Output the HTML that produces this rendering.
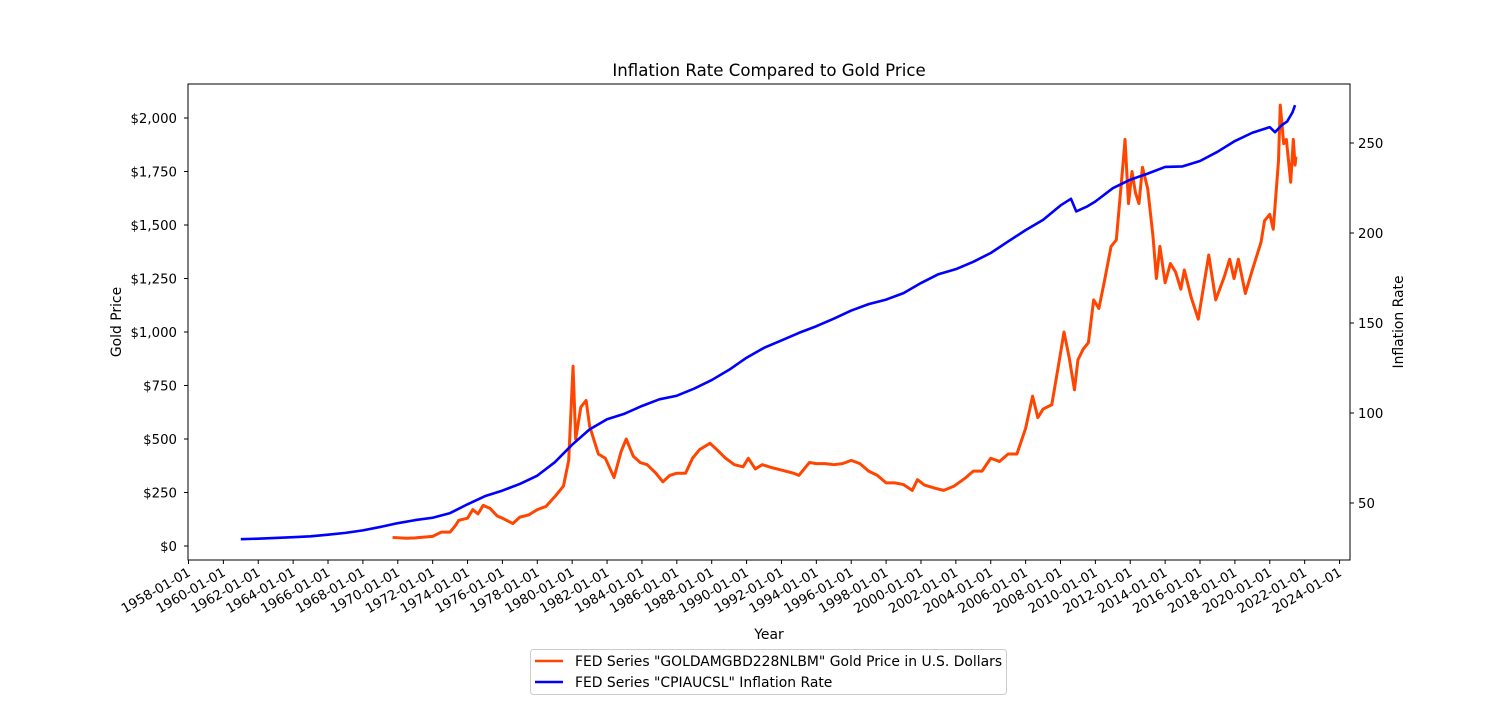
<!DOCTYPE html>
<html><head><meta charset="utf-8"><style>body{margin:0;background:#fff}svg{font-family:"DejaVu Sans","Liberation Sans",sans-serif}</style></head>
<body>
<svg id="c" width="1500" height="700"></svg>
<script>
const goldDates=[1969.7,1970.5,1971,1972,1972.5,1973,1973.3,1973.5,1974,1974.3,1974.6,1974.9,1975.3,1975.7,1976,1976.6,1977,1977.5,1978,1978.5,1979,1979.5,1979.8,1980.05,1980.2,1980.5,1980.8,1981,1981.5,1981.9,1982.4,1982.8,1983.1,1983.5,1983.9,1984.3,1984.8,1985.2,1985.6,1986,1986.5,1986.9,1987.3,1987.9,1988.3,1988.8,1989.3,1989.8,1990.1,1990.5,1990.9,1991.5,1992,1992.7,1993,1993.6,1994,1994.5,1995,1995.5,1996,1996.5,1997,1997.5,1998,1998.5,1999,1999.5,1999.8,2000.2,2000.8,2001.3,2001.9,2002.5,2003,2003.5,2004,2004.5,2005,2005.5,2006,2006.4,2006.7,2007,2007.5,2008,2008.2,2008.5,2008.8,2009,2009.3,2009.6,2009.9,2010.2,2010.5,2010.9,2011.2,2011.6,2011.7,2011.9,2012.1,2012.3,2012.5,2012.7,2013,2013.3,2013.5,2013.7,2014,2014.3,2014.6,2014.9,2015.1,2015.5,2015.9,2016.5,2016.9,2017.4,2017.7,2017.95,2018.2,2018.6,2019,2019.5,2019.7,2020,2020.2,2020.5,2020.6,2020.8,2020.95,2021.2,2021.35,2021.45,2021.5];
const goldValues=[40,36,38,45,65,65,95,120,130,170,150,190,175,140,130,105,135,145,170,185,230,280,400,840,500,650,680,560,430,410,320,440,500,420,390,380,340,300,330,340,340,410,450,480,450,410,380,370,410,360,380,365,355,340,330,390,385,385,380,385,400,385,350,330,295,295,287,260,310,285,270,260,280,315,350,350,410,395,430,430,550,700,600,640,660,900,1000,880,730,870,920,950,1150,1110,1230,1400,1430,1800,1900,1600,1750,1650,1600,1770,1670,1450,1250,1400,1230,1320,1280,1200,1290,1160,1060,1360,1150,1260,1340,1250,1340,1180,1290,1420,1520,1550,1480,1800,2060,1880,1900,1700,1900,1780,1820];
const cpiDates=[1961,1962,1963,1964,1965,1966,1967,1968,1969,1970,1971,1972,1973,1974,1975,1976,1977,1978,1979,1980,1981,1982,1983,1984,1985,1986,1987,1988,1989,1990,1991,1992,1993,1994,1995,1996,1997,1998,1999,2000,2001,2002,2003,2004,2005,2006,2007,2008,2008.6,2008.9,2009.5,2010,2011,2012,2013,2014,2015,2016,2017,2018,2019,2020,2020.3,2020.7,2021,2021.3,2021.45];
const cpiValues=[29.9,30.2,30.6,31.0,31.5,32.4,33.4,34.8,36.7,38.8,40.5,41.8,44.4,49.3,53.8,56.9,60.6,65.2,72.6,82.4,90.9,96.5,99.6,103.9,107.6,109.6,113.6,118.3,124.0,130.7,136.2,140.3,144.5,148.2,152.4,156.9,160.5,163.0,166.6,172.2,177.1,179.9,184.0,188.9,195.3,201.6,207.3,215.3,219,212,214.6,217.5,224.9,229.6,233.0,236.7,237.0,240.0,245.1,251.1,255.7,258.8,256,260,262,267,271];
const goldTicks=[0,250,500,750,1000,1250,1500,1750,2000];
const goldTickLabels=["$0","$250","$500","$750","$1,000","$1,250","$1,500","$1,750","$2,000"];
const cpiTicks=[50,100,150,200,250];
const yearTicks=[1958,1960,1962,1964,1966,1968,1970,1972,1974,1976,1978,1980,1982,1984,1986,1988,1990,1992,1994,1996,1998,2000,2002,2004,2006,2008,2010,2012,2014,2016,2018,2020,2022,2024];

const svg=document.getElementById('c');const NS='http://www.w3.org/2000/svg';
const L=188,R=1350,T=84,B=560;
const x=d=>188.5+(d-1958)*17.44;
const yG=v=>546-v*0.214;
const yC=v=>143+(250-v)*1.8;
function mk(tag,attrs,parent){const e=document.createElementNS(NS,tag);for(const k in attrs)e.setAttribute(k,attrs[k]);(parent||svg).appendChild(e);return e;}
function txt(s,attrs,parent){const e=mk('text',attrs,parent);e.textContent=s;return e;}

let t=txt('Inflation Rate Compared to Gold Price',{x:769,y:76,'text-anchor':'middle','font-size':16.6});



const g1=mk('polyline',{points:goldDates.map((d,i)=>x(d)+','+yG(goldValues[i])).join(' '),fill:'none',stroke:'#ff4500','stroke-width':3,'stroke-linejoin':'round'});


const c1=mk('polyline',{points:cpiDates.map((d,i)=>x(d)+','+yC(cpiValues[i])).join(' '),fill:'none',stroke:'#0000ff','stroke-width':2.6,'stroke-linejoin':'round'});



const fr=mk('rect',{x:L,y:T,width:R-L,height:B-T,fill:'none',stroke:'#000','stroke-width':1});



goldTicks.forEach((v,i)=>{const y=yG(v);mk('line',{x1:L-4,x2:L,y1:y,y2:y,stroke:'#000'});
 const e=txt(goldTickLabels[i],{x:L-11,y:y+5,'text-anchor':'end','font-size':13.3});
 
 });
cpiTicks.forEach(v=>{const y=yC(v);mk('line',{x1:R,x2:R+4,y1:y,y2:y,stroke:'#000'});
 const e=txt(String(v),{x:R+8,y:y+5,'font-size':13.3});
 
 });
yearTicks.forEach(yr=>{const xx=x(yr);mk('line',{x1:xx,x2:xx,y1:B,y2:B+4,stroke:'#000'});
 const e=txt(yr+'-01-01',{x:xx+3,y:B+15,'text-anchor':'end','font-size':13.3,transform:`rotate(-30 ${xx+3} ${B+15})`});
 
 });

t=txt('Year',{x:769,y:639,'text-anchor':'middle','font-size':13.9});


t=txt('Gold Price',{x:121,y:322,'text-anchor':'middle','font-size':13.9,transform:'rotate(-90 121 322)'});


t=txt('Inflation Rate',{x:1403,y:322,'text-anchor':'middle','font-size':13.9,transform:'rotate(-90 1403 322)'});



const lg=mk('g',{});


mk('rect',{x:530.5,y:649.5,width:476,height:45,rx:3,fill:'#fff',stroke:'#ccc'},lg);
mk('line',{x1:535,x2:563,y1:661,y2:661,stroke:'#ff4500','stroke-width':2.5},lg);
t=txt('FED Series "GOLDAMGBD228NLBM" Gold Price in U.S. Dollars',{x:575,y:666,'font-size':13.9},lg);


mk('line',{x1:535,x2:563,y1:682,y2:682,stroke:'#0000ff','stroke-width':2.5},lg);
t=txt('FED Series "CPIAUCSL" Inflation Rate',{x:575,y:687,'font-size':13.9},lg);


</script>
</body></html>
